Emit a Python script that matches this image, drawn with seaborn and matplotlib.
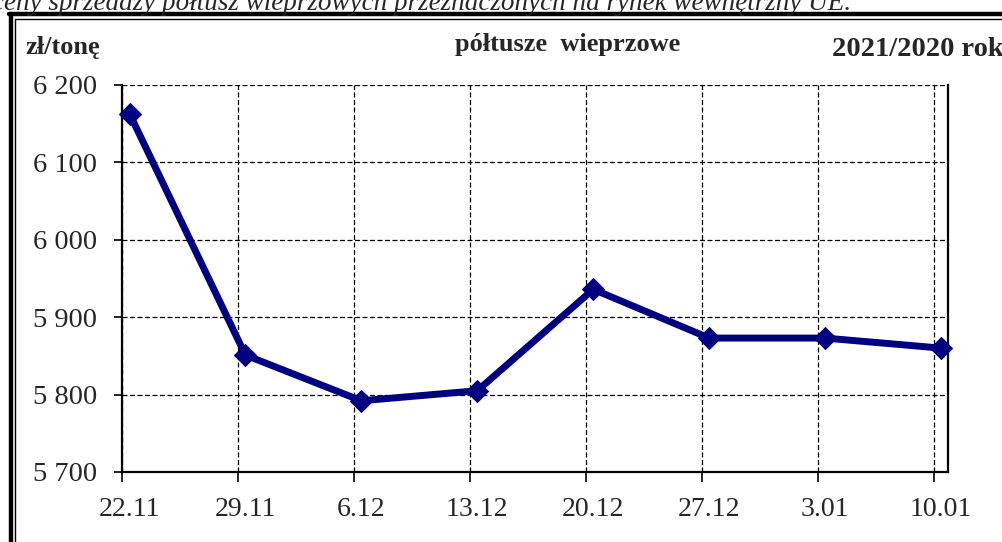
import numpy as np
import pandas as pd
import matplotlib.pyplot as plt
from matplotlib.lines import Line2D
from matplotlib.ticker import FuncFormatter, FixedLocator
import seaborn as sns

# dane
weeks  = ["22.11", "29.11", "6.12", "13.12", "20.12", "27.12", "3.01", "10.01"]
prices = [6163, 5851, 5792, 5805, 5936, 5873, 5873, 5860]

TITLE   = "ceny sprzedaży półtusz wieprzowych przeznaczonych na rynek wewnętrzny UE."
UNIT    = "zł/tonę"
PRODUCT = "półtusze  wieprzowe"
PERIOD  = "2021/2020 rok"

sns.set_style("ticks")
plt.rcParams["font.family"] = ["Liberation Serif", "DejaVu Serif"]

df = pd.DataFrame({"pos": np.arange(len(weeks)), "price": prices})

fig = plt.figure(figsize=(10.03, 5.42), dpi=100)
ax = fig.add_axes([0.1216, 0.1292, 0.8236, 0.714])

sns.lineplot(data=df, x="pos", y="price", ax=ax, color="#000080",
             linewidth=5, marker="D", markersize=11,
             markeredgecolor="#000080", clip_on=False, zorder=5)

ax.set_xlim(-0.065, 7.06)
ax.set_ylim(5700, 6200)

# etykiety pod punktami, siatka nieco w lewo
ax.set_xticks(df["pos"])
ax.set_xticklabels(weeks)
ax.xaxis.set_minor_locator(FixedLocator(df["pos"] - 0.065))
ax.tick_params(axis="x", which="major", length=0, pad=18, labelsize=20)
ax.tick_params(axis="x", which="minor", length=7, width=1.2, direction="out", color="black")
ax.grid(axis="x", which="minor", color="black", linestyle=(0, (4, 2)), linewidth=0.9)

ax.set_yticks(np.arange(5700, 6201, 100))
ax.yaxis.set_major_formatter(FuncFormatter(lambda v, p: f"{int(v):,}".replace(",", " ")))
ax.tick_params(axis="y", length=6, width=1.2, direction="out", pad=12, labelsize=20.5, color="black")
ax.grid(axis="y", color="black", linestyle=(0, (4, 2)), linewidth=0.9)

ax.set_xlabel("")
ax.set_ylabel("")
for side in ["left", "bottom", "right"]:
    ax.spines[side].set_color("black")
    ax.spines[side].set_linewidth(1.6)
ax.spines["top"].set_visible(False)

# nagłówki
fig.text(0.025, 0.913, UNIT, fontsize=19, fontweight="bold", ha="left", va="center")
fig.text(0.566, 0.918, PRODUCT, fontsize=19, fontweight="bold", ha="center", va="center")
fig.text(0.830, 0.909, PERIOD, fontsize=20.5, fontweight="bold", ha="left", va="center")
fig.text(-0.008, 0.982, TITLE, fontsize=19.5, style="italic", ha="left", va="baseline")

# podwójna ramka
W, H = 1003, 542
def fline(x, y, lw):
    fig.add_artist(Line2D(np.array(x) / W, 1 - np.array(y) / H, color="black",
                          linewidth=lw, transform=fig.transFigure))

fline([11, 11], [14, 560], 3.2)
fline([9, 1010], [14, 14], 3.2)
fline([15.5, 15.5], [18.5, 560], 1.0)
fline([15.5, 1010], [18.5, 18.5], 1.0)

fig.savefig("out.png", dpi=100)
